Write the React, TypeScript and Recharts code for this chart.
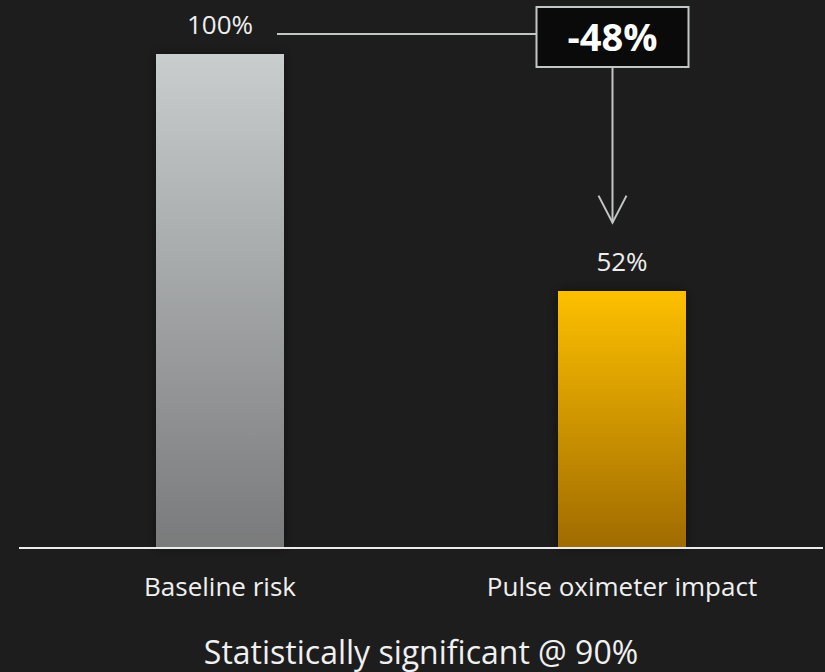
import React from 'react';
import { BarChart, Bar, XAxis, YAxis, Cell, LabelList } from 'recharts';

// Chart data
const categories = ['Baseline risk', 'Pulse oximeter impact'];
const riskValues = [100, 52];
const footnote = 'Statistically significant @ 90%';

// Layout & style
const W = 825;
const H = 672;
const MARGIN = { top: 54, right: 2, bottom: 44, left: 19 };
const FONT = '"Open Sans", "DejaVu Sans", sans-serif';
const BG = '#1d1d1d';
const LINE = '#c3c6c6';
const gradients = [
  ['#c9cdce', '#797a7b'],
  ['#fdc000', '#a06b00'],
];

const data = categories.map((name, i) => ({ name, value: riskValues[i] }));

const pct = (v: number) => `${v}%`;

function ValueLabel(props: any) {
  const { x, y, width, height, value } = props;
  const index = props.index ?? riskValues.indexOf(value);
  const cx = x + width / 2;
  const label = (
    <text x={cx} y={y - 20} textAnchor="middle" fontSize={26} fill="#eeeeee" fontFamily={FONT}>
      {pct(value)}
    </text>
  );
  if (index !== 1) return label;

  // change annotation, drawn relative to the two bars
  const base = y + height;
  const pxPerUnit = height / value;
  const yFirst = base - riskValues[0] * pxPerUnit;
  const step = (W - MARGIN.left - MARGIN.right) / categories.length;
  const cxFirst = cx - step;
  const lineY = yFirst - 20;
  const ax = cx - 9.5;
  const boxL = ax - 76;
  const boxR = ax + 76;
  const boxT = lineY - 27;
  const boxB = lineY + 33;
  const tipY = y - 68.5;
  const change = Math.round(((riskValues[1] - riskValues[0]) / riskValues[0]) * 100);

  return (
    <g>
      {label}
      <line x1={cxFirst + 57} y1={lineY} x2={boxL} y2={lineY} stroke={LINE} strokeWidth={2} />
      <rect x={boxL} y={boxT} width={boxR - boxL} height={boxB - boxT} fill="#0a0a0a" stroke={LINE} strokeWidth={2} />
      <text x={ax} y={boxT + 44} textAnchor="middle" fontSize={38} fontWeight="bold" fill="#ffffff" fontFamily={FONT}>
        {pct(change)}
      </text>
      <line x1={ax} y1={boxB} x2={ax} y2={tipY} stroke={LINE} strokeWidth={2} />
      <polyline
        points={`${ax - 14},${tipY - 27} ${ax},${tipY} ${ax + 14},${tipY - 27}`}
        fill="none"
        stroke={LINE}
        strokeWidth={2}
      />
    </g>
  );
}

export default function App() {
  return (
    <div style={{ position: 'absolute', left: 0, top: 0, width: W, height: H, background: BG }}>
      <BarChart width={W} height={H} data={data} margin={MARGIN}>
        <defs>
          {gradients.map(([top, bottom], i) => (
            <linearGradient key={i} id={`barGrad${i}`} x1="0" y1="0" x2="0" y2="1">
              <stop offset="0%" stopColor={top} />
              <stop offset="100%" stopColor={bottom} />
            </linearGradient>
          ))}
          <filter id="barShadow" x="-30%" y="-30%" width="160%" height="160%">
            <feDropShadow dx="0" dy="0" stdDeviation="6" floodColor="#000000" floodOpacity="0.45" />
          </filter>
        </defs>
        <YAxis hide domain={[0, 100]} />
        <XAxis
          dataKey="name"
          height={80}
          axisLine={{ stroke: '#ececec', strokeWidth: 2 }}
          tickLine={false}
          tickSize={6}
          tickMargin={24}
          tick={{ fill: '#f0f0f0', fontSize: 26, fontFamily: FONT }}
          label={{
            value: footnote,
            position: 'bottom',
            offset: 13,
            fill: '#f0f0f0',
            fontSize: 32,
            fontFamily: FONT,
          }}
        />
        <Bar dataKey="value" barSize={128} isAnimationActive={false} filter="url(#barShadow)">
          {data.map((d, i) => (
            <Cell key={d.name} fill={`url(#barGrad${i})`} />
          ))}
          <LabelList dataKey="value" content={<ValueLabel />} />
        </Bar>
      </BarChart>
    </div>
  );
}
